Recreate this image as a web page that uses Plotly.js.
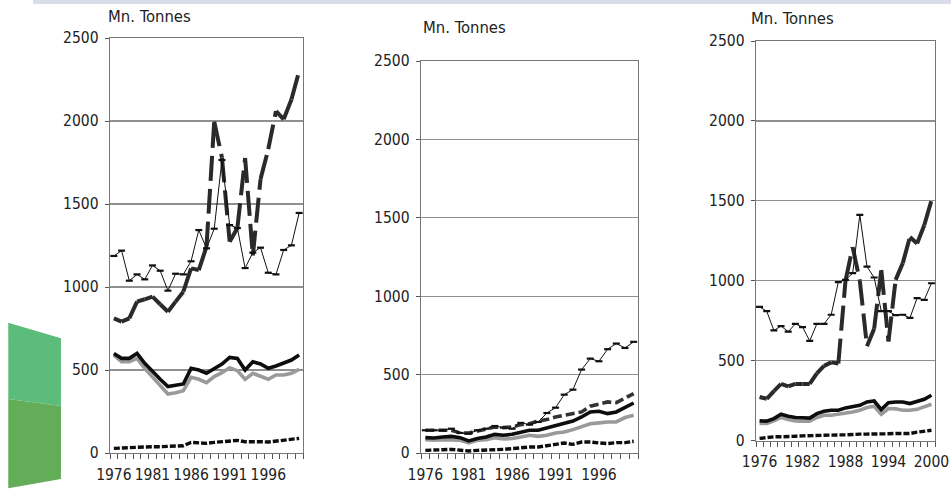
<!DOCTYPE html>
<html>
<head>
<meta charset="utf-8">
<script src="https://cdn.plot.ly/plotly-3.0.1.min.js"></script>
<style>
html,body{margin:0;padding:0;background:#fff;}
#chart{width:951px;height:489px;}
</style>
</head>
<body>
<div id="chart"></div>
<script>
// ---------- DATA ----------
const years = [1976,1977,1978,1979,1980,1981,1982,1983,1984,1985,1986,1987,1988,1989,1990,1991,1992,1993,1994,1995,1996,1997,1998,1999,2000];

const axisTitle = "Mn. Tonnes";
const yTicks = [0,500,1000,1500,2000,2500];
const xTicksA = [1976,1981,1986,1991,1996];
const xTicksC = [1976,1982,1988,1994,2000];

// Left panel
const leftThin   = [1187,1219,1038,1076,1046,1130,1098,978,1080,1076,1155,1343,1233,1351,1765,1373,1355,1114,1207,1237,1086,1076,1223,1251,1446];
const leftDash   = [811,791,811,912,926,942,896,851,912,972,1112,1102,1243,1996,1780,1273,1355,1777,1190,1650,1830,2060,2010,2130,2300];
const leftBlack  = [600,570,570,600,540,490,444,400,406,416,510,500,480,510,536,576,570,500,550,536,510,524,540,560,590];
const leftGrey   = [590,550,550,570,510,460,410,355,363,375,456,444,424,460,484,514,496,444,480,464,444,470,470,480,504];
const leftBottom = [28,30,34,38,36,38,38,40,40,44,64,62,58,64,68,68,76,68,70,68,66,72,78,84,88];

// Middle panel
const midThin   = [145,145,145,155,128,123,145,155,172,162,155,192,181,198,255,289,372,404,532,602,585,662,698,670,709];
const midDash   = [145,145,145,145,128,128,140,155,166,162,166,181,187,204,213,230,240,247,262,298,315,326,321,347,379];
const midBlack  = [98,96,102,106,98,77,92,102,119,113,119,134,145,145,160,177,192,204,230,262,266,251,262,289,319];
const midGrey   = [85,81,85,85,81,64,81,85,98,89,92,102,113,106,113,128,134,149,166,187,192,198,198,226,240];
const midBottom = [17,21,21,23,17,13,17,21,21,23,28,34,38,38,49,55,64,55,70,70,64,60,66,66,75];

// Right panel
const rightThin   = [836,809,689,716,681,730,710,623,730,730,787,991,1005,1047,1412,1088,1020,809,809,784,787,767,891,880,984];
const rightDash   = [272,261,309,354,338,354,354,354,420,467,489,482,1000,1210,1000,590,700,1067,620,1005,1110,1274,1233,1347,1502];
const rightBlack  = [123,121,137,164,152,144,142,140,168,183,189,189,204,210,220,241,247,193,236,241,241,231,247,258,283];
const rightGrey   = [107,107,123,144,131,123,121,121,144,158,158,164,172,178,189,206,214,164,200,198,189,189,195,210,227];
const rightBottom = [13,19,23,23,27,27,29,31,31,33,35,35,35,40,40,40,40,37,42,44,44,44,52,58,64];

// ---------- BUILD ----------
const FONT = "'DejaVu Sans Condensed', 'Liberation Sans Narrow', 'DejaVu Sans', sans-serif";
const W = 951, H = 489;

function line(xa, ya, y, color, width, dash) {
  return {type:'scatter', mode:'lines', x:years, y:y, xaxis:xa, yaxis:ya,
    line:{color:color, width:width, dash:dash||'solid'}, hoverinfo:'skip', showlegend:false};
}
function thin(xa, ya, y) {
  return {type:'scatter', mode:'lines+markers', x:years, y:y, xaxis:xa, yaxis:ya,
    line:{color:'#111', width:1}, marker:{symbol:'line-ew', size:5, line:{color:'#111', width:2.2}},
    hoverinfo:'skip', showlegend:false};
}
// dash pattern restarts on every segment (as in the original drawing)
function segDash(xa, ya, y, color, width, dash) {
  const out = [];
  for (let i = 0; i < years.length - 1; i++) {
    out.push({type:'scatter', mode:'lines', x:[years[i], years[i+1]], y:[y[i], y[i+1]],
      xaxis:xa, yaxis:ya, line:{color:color, width:width, dash:dash},
      hoverinfo:'skip', showlegend:false});
  }
  return out;
}

function panel(xa, ya, thinY, dashY, blackY, greyY, bottomY, midStyle) {
  let t = [];
  t.push(line(xa, ya, greyY, '#9a9a9a', 3.6));
  t.push(line(xa, ya, blackY, '#0d0d0d', 3.6));
  t.push(line(xa, ya, bottomY, '#0d0d0d', 3.4, '6px,2px'));
  if (midStyle) t.push(line(xa, ya, dashY, '#333', 3.6, '9px,4px'));
  else t = t.concat(segDash(xa, ya, dashY, '#2a2a2a', 4, '25px,8px'));
  t.push(thin(xa, ya, thinY));
  return t;
}

const traces = []
  .concat(panel('x','y', leftThin, leftDash, leftBlack, leftGrey, leftBottom, false))
  .concat(panel('x2','y2', midThin, midDash, midBlack, midGrey, midBottom, true))
  .concat(panel('x3','y3', rightThin, rightDash, rightBlack, rightGrey, rightBottom, false));

function xAxis(domPx, yAnchor, ticks) {
  return {domain:[domPx[0]/W, domPx[1]/W], anchor:yAnchor, range:[1975.5, 2000.5],
    tickmode:'array', tickvals:ticks, ticktext:ticks.map(String), ticks:'',
    showgrid:false, zeroline:false, showline:true, linecolor:'#777', linewidth:1.3, mirror:true,
    tickfont:{family:FONT, size:15.5, color:'#222'}, ticklabelstandoff:7, ticklabeloverflow:'allow',
    minor:{tickmode:'linear', tick0:1975.5, dtick:1, ticks:'outside', ticklen:5, tickcolor:'#555', tickwidth:1, showgrid:false},
    fixedrange:true};
}
function yAxis(domPx, xAnchor) {
  return {domain:[1 - domPx[1]/H, 1 - domPx[0]/H], anchor:xAnchor, range:[0, 2500],
    tickmode:'array', tickvals:yTicks, ticktext:yTicks.map(String), ticks:'outside', ticklen:4, tickcolor:'#555',
    showgrid:true, gridcolor:'#8f8f8f', gridwidth:1.3, zeroline:false,
    showline:true, linecolor:'#777', linewidth:1.3, mirror:true,
    tickfont:{family:FONT, size:15.5, color:'#222'}, ticklabelstandoff:3, fixedrange:true};
}

function titleAnn(px, py) {
  return {text:axisTitle, xref:'paper', yref:'paper', x:px/W, y:1 - py/H, xanchor:'center', yanchor:'middle',
    showarrow:false, font:{family:FONT, size:16.5, color:'#222'}};
}

function p(x, y) { return (x/W).toFixed(4) + ',' + (1 - y/H).toFixed(4); }

const layout = {
  width:W, height:H, margin:{l:0, r:0, t:0, b:0},
  paper_bgcolor:'#fff', plot_bgcolor:'#fff', showlegend:false, hovermode:false,
  xaxis:  xAxis([110,303], 'y',  xTicksA),
  yaxis:  yAxis([38,453],  'x'),
  xaxis2: xAxis([421,638], 'y2', xTicksA),
  yaxis2: yAxis([61,453],  'x2'),
  xaxis3: xAxis([756,935], 'y3', xTicksC),
  yaxis3: yAxis([41,440.5],'x3'),
  annotations:[titleAnn(149,17), titleAnn(464,28), titleAnn(792,19)],
  shapes:[
    {type:'rect', xref:'paper', yref:'paper', x0:33/W, x1:1, y0:1-4/H, y1:1, fillcolor:'#d9dde7', line:{width:0}, layer:'below'},
    {type:'path', xref:'paper', yref:'paper', path:'M'+p(8.3,322.7)+' L'+p(61,338.3)+' L'+p(61,406)+' L'+p(8.3,399)+' Z',
      fillcolor:'#5cbd7b', line:{width:0}, layer:'below'},
    {type:'path', xref:'paper', yref:'paper', path:'M'+p(8.3,399)+' L'+p(61,406)+' L'+p(61,479)+' L'+p(8.3,488.3)+' Z',
      fillcolor:'#63ac58', line:{width:0}, layer:'below'}
  ]
};

Plotly.newPlot('chart', traces, layout, {staticPlot:true, displayModeBar:false});
</script>
</body>
</html>
